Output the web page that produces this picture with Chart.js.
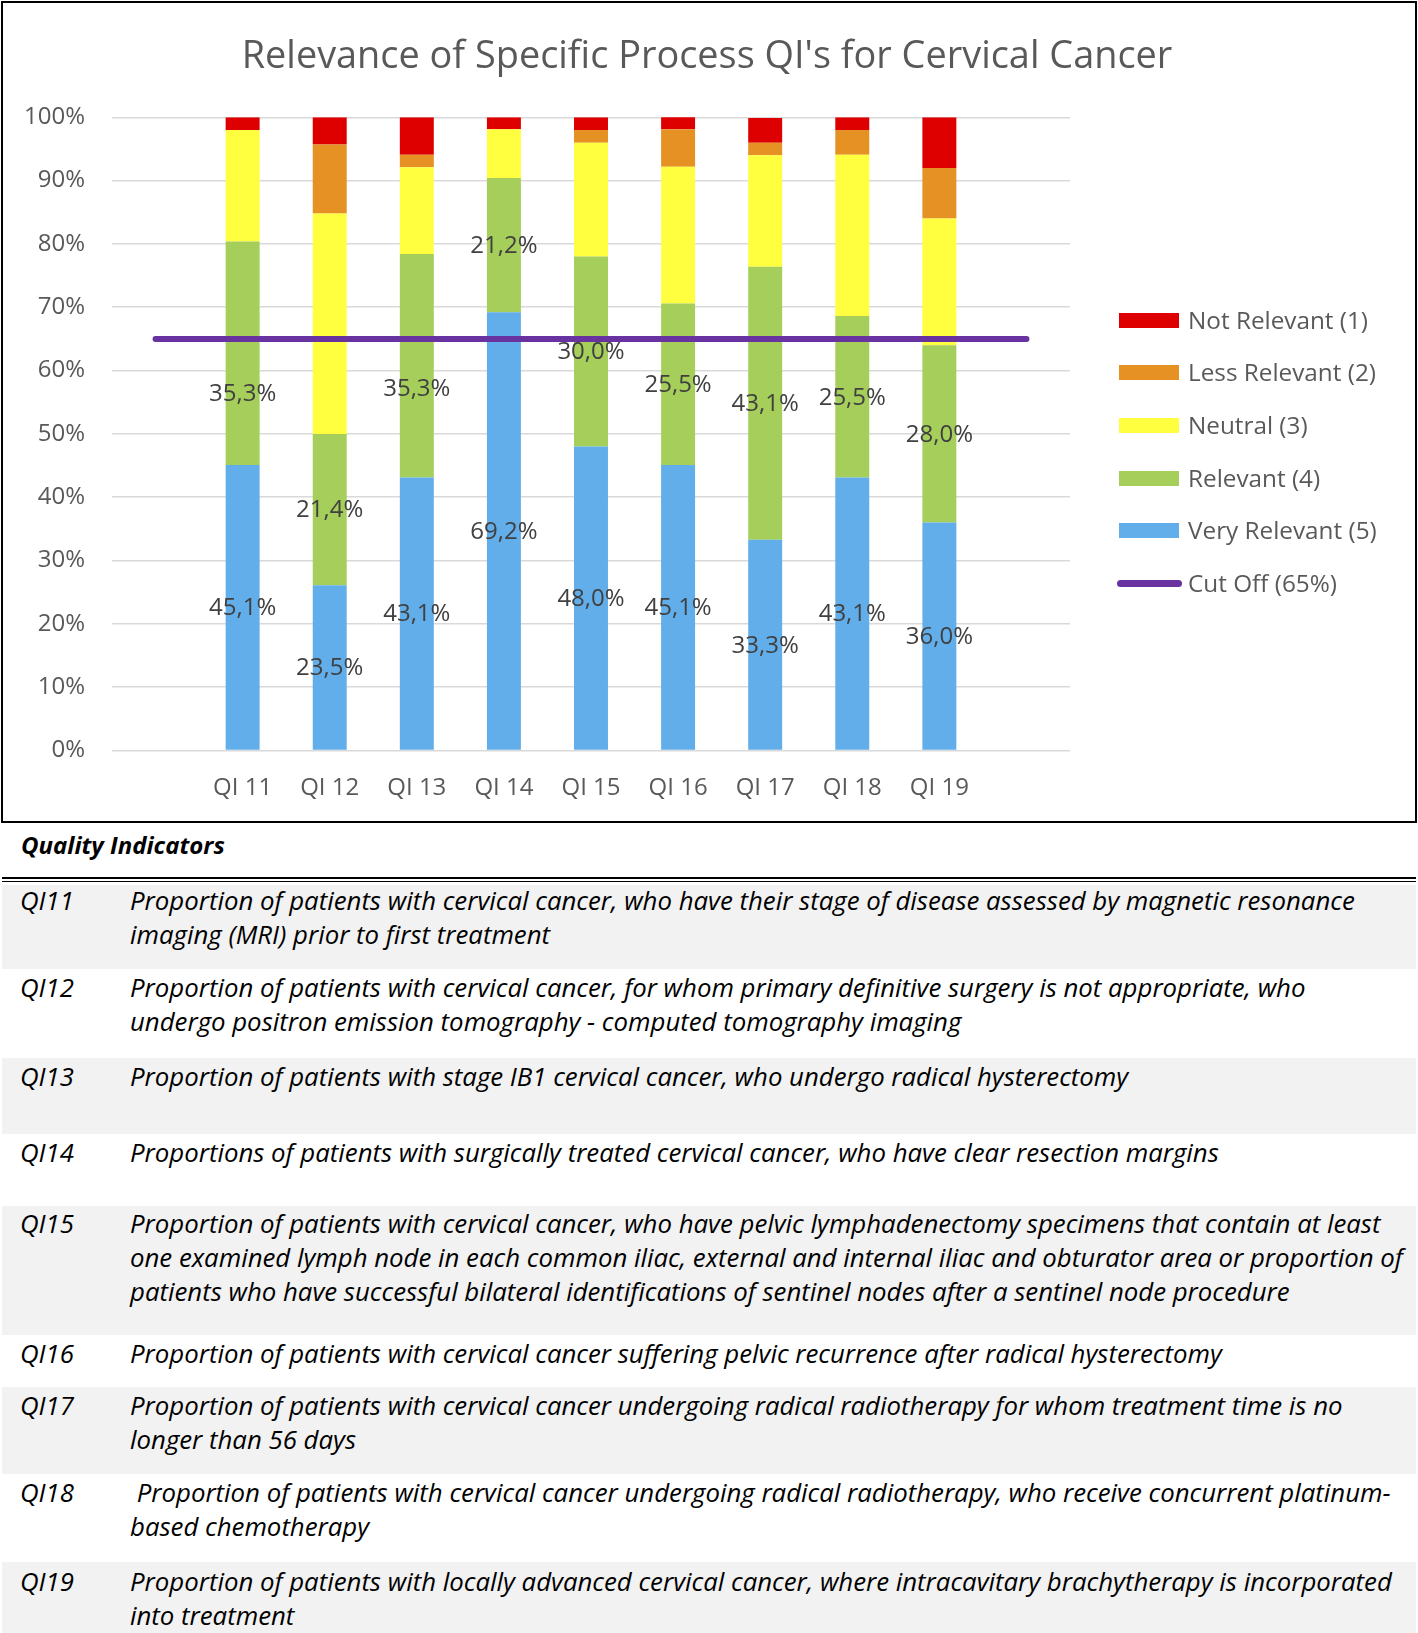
<!DOCTYPE html>
<html>
<head>
<meta charset="utf-8">
<script src="https://cdn.jsdelivr.net/npm/chart.js@4.4.1/dist/chart.umd.min.js"></script>
<style>
  html, body { margin: 0; padding: 0; background: #fff; }
  body { width: 1418px; height: 1633px; position: relative; overflow: hidden; font-family: "Open Sans", Lato, sans-serif; }
  #box { position: absolute; left: 1px; top: 1px; width: 1416px; height: 822px; box-sizing: border-box; border: 2px solid #000; }
  #chart { position: absolute; left: 3px; top: 3px; }
  #title { position: absolute; left: 0; width: 1414px; text-align: center; top: 29px; line-height: 50px; color: #595959; white-space: nowrap; }
  .leg { position: absolute; left: 1117px; height: 30px; width: 300px; }
  .leg .sw { position: absolute; left: 2px; width: 60px; height: 15px; top: 7px; }
  .leg .ln { position: absolute; left: 0px; width: 65px; height: 7px; top: 11px; border-radius: 4px; }
  .leg .tx { position: absolute; left: 71px; top: -1px; line-height: 30px; font-size: 24.3px; color: #595959; white-space: nowrap; }
  #qiHead { position: absolute; left: 21px; top: 829px; font-size: 24px; font-weight: bold; font-style: italic; color: #000; line-height: 32px; }
  #dbl1 { position: absolute; left: 2px; width: 1414px; top: 877px; height: 2px; background: #000; }
  #dbl2 { position: absolute; left: 2px; width: 1414px; top: 881px; height: 1px; background: #000; }
  .row { position: absolute; left: 2px; width: 1414px; }
  .row.g { background: #f2f2f2; }
  .row .id { position: absolute; left: 18px; font-style: italic; line-height: 34px; color: #000; }
  .row .ds { position: absolute; left: 128px; font-style: italic; line-height: 34px; color: #000; white-space: nowrap; }
</style>
</head>
<body>
<div id="box"></div>
<canvas id="chart" width="1412" height="818"></canvas>
<div id="title"></div>
<div id="legend"></div>
<div id="qiHead">Quality Indicators</div>
<div id="dbl1"></div><div id="dbl2"></div>
<div id="table"></div>
<script>
// ---- data ----
const chartTitle = "Relevance of Specific Process QI's for Cervical Cancer";
const categories = ['QI 11', 'QI 12', 'QI 13', 'QI 14', 'QI 15', 'QI 16', 'QI 17', 'QI 18', 'QI 19'];
const veryRelevant = [45.1, 26.1, 43.1, 69.2, 48.0, 45.1, 33.3, 43.1, 36.0];
const relevant     = [35.3, 23.9, 35.3, 21.2, 30.0, 25.5, 43.1, 25.5, 28.0];
const neutral      = [17.6, 34.8, 13.7, 7.7, 18.0, 21.6, 17.6, 25.5, 20.0];
const lessRelevant = [0, 10.9, 2.0, 0, 2.0, 5.9, 2.0, 3.9, 8.0];
const notRelevant  = [2.0, 4.3, 5.9, 1.9, 2.0, 2.0, 3.9, 2.0, 8.0];
const veryRelevantLabels = [45.1, 23.5, 43.1, 69.2, 48.0, 45.1, 33.3, 43.1, 36.0];
const relevantLabels     = [35.3, 21.4, 35.3, 21.2, 30.0, 25.5, 43.1, 25.5, 28.0];
const cutOff = 65;
const yTicks = [0, 10, 20, 30, 40, 50, 60, 70, 80, 90, 100];
const qiIds = ['QI11', 'QI12', 'QI13', 'QI14', 'QI15', 'QI16', 'QI17', 'QI18', 'QI19'];
const qiTexts = [
  ['Proportion of patients with cervical cancer, who have their stage of disease assessed by magnetic resonance', 'imaging (MRI) prior to first treatment'],
  ['Proportion of patients with cervical cancer, for whom primary definitive surgery is not appropriate, who', 'undergo positron emission tomography - computed tomography imaging'],
  ['Proportion of patients with stage IB1 cervical cancer, who undergo radical hysterectomy'],
  ['Proportions of patients with surgically treated cervical cancer, who have clear resection margins'],
  ['Proportion of patients with cervical cancer, who have pelvic lymphadenectomy specimens that contain at least', 'one examined lymph node in each common iliac, external and internal iliac and obturator area or proportion of', 'patients who have successful bilateral identifications of sentinel nodes after a sentinel node procedure'],
  ['Proportion of patients with cervical cancer suffering pelvic recurrence after radical hysterectomy'],
  ['Proportion of patients with cervical cancer undergoing radical radiotherapy for whom treatment time is no', 'longer than 56 days'],
  ['\u00a0Proportion of patients with cervical cancer undergoing radical radiotherapy, who receive concurrent platinum-', 'based chemotherapy'],
  ['Proportion of patients with locally advanced cervical cancer, where intracavitary brachytherapy is incorporated', 'into treatment']
];

// ---- styling (not data) ----
const rowTops = [885, 969, 1058, 1134, 1206, 1335, 1387, 1474, 1562, 1633];
const rowTextTop = [-2, 1, 1, 1, 0, 1, 1, 1, 2];
const rowGrey = [true, false, true, false, true, false, true, false, true];
const labelShift = { 'Relevant (4)': { 0: 40, 2: 22 } };
const FONT = '"Open Sans"';

// fit a font size so a reference string spans a target width
function fitSize(text, style, base, target) {
  const c = document.createElement('canvas').getContext('2d');
  c.font = style + ' ' + base + 'px ' + FONT;
  return base * target / c.measureText(text).width;
}

const titleEl = document.getElementById('title');
titleEl.textContent = chartTitle;
titleEl.style.fontSize = fitSize(chartTitle, 'normal', 35, 931).toFixed(2) + 'px';

const pad = a => [null, ...a, null];
const allLabels = ['', ...categories, ''];
const fmt = v => v.toFixed(1).replace('.', ',') + '%';

const datasets = [
  { label: 'Very Relevant (5)', data: pad(veryRelevant), backgroundColor: '#62AEEA', valueLabels: veryRelevantLabels, order: 1 },
  { label: 'Relevant (4)', data: pad(relevant), backgroundColor: '#A5CE5A', valueLabels: relevantLabels, order: 1 },
  { label: 'Neutral (3)', data: pad(neutral), backgroundColor: '#FFFF40', order: 1 },
  { label: 'Less Relevant (2)', data: pad(lessRelevant), backgroundColor: '#E59123', order: 1 },
  { label: 'Not Relevant (1)', data: pad(notRelevant), backgroundColor: '#DE0000', order: 1 },
  { type: 'line', label: 'Cut Off (65%)', data: allLabels.map(() => cutOff), borderColor: '#6833A0', backgroundColor: '#6833A0',
    borderWidth: 6, borderCapStyle: 'round', pointRadius: 0, order: 0 }
];
datasets.forEach(d => { if (!d.type) { d.barPercentage = 0.39; d.categoryPercentage = 1.0; d.borderWidth = 0; } });

const valueLabelPlugin = {
  id: 'valueLabels',
  afterDatasetsDraw(chart) {
    const ctx = chart.ctx;
    ctx.save();
    ctx.font = '24px ' + FONT;
    ctx.fillStyle = '#404040';
    ctx.textAlign = 'center';
    ctx.textBaseline = 'middle';
    chart.data.datasets.forEach((ds, di) => {
      if (!ds.valueLabels) return;
      const meta = chart.getDatasetMeta(di);
      meta.data.forEach((el, i) => {
        const k = i - 1;
        if (k < 0 || k >= ds.valueLabels.length) return;
        const shift = (labelShift[ds.label] && labelShift[ds.label][k]) || 0;
        const y = (el.y + el.base) / 2 + shift;
        ctx.fillText(fmt(ds.valueLabels[k]), el.x, y + 1);
      });
    });
    ctx.restore();
  }
};

const chart = new Chart(document.getElementById('chart'), {
  type: 'bar',
  data: { labels: allLabels, datasets },
  options: {
    responsive: false,
    devicePixelRatio: 1,
    animation: false,
    layout: { padding: { left: 0, right: 345, top: 114.3, bottom: 0 } },
    plugins: {
      legend: { display: false },
      tooltip: { enabled: false },
      title: { display: false }
    },
    scales: {
      x: {
        stacked: true,
        grid: { display: false, drawTicks: false },
        border: { display: false },
        ticks: { color: '#595959', font: { family: 'Open Sans', size: 24 }, padding: 23, autoSkip: false, maxRotation: 0 },
        afterFit(scale) { scale.height = 70.5; }
      },
      y: {
        stacked: true,
        min: 0, max: 100,
        grid: { color: '#d9d9d9', lineWidth: 1.6, drawTicks: false },
        border: { display: false },
        afterBuildTicks(scale) { scale.ticks = yTicks.map(v => ({ value: v })); },
        ticks: { color: '#595959', font: { family: 'Open Sans', size: 24 }, padding: 27, callback: v => v + '%' },
        afterFit(scale) { scale.width = 109; }
      }
    }
  },
  plugins: [valueLabelPlugin]
});

// ---- legend (HTML) ----
const legendOrder = [4, 3, 2, 1, 0, 5];
const legendCenters = [321, 373, 425.5, 478.5, 531, 583.5];
const legendEl = document.getElementById('legend');
legendOrder.forEach((di, j) => {
  const ds = datasets[di];
  const item = document.createElement('div');
  item.className = 'leg';
  item.style.top = (legendCenters[j] - 15) + 'px';
  const sw = document.createElement('div');
  sw.className = ds.type === 'line' ? 'ln' : 'sw';
  sw.style.background = ds.type === 'line' ? ds.borderColor : ds.backgroundColor;
  const tx = document.createElement('div');
  tx.className = 'tx';
  tx.textContent = ds.label;
  item.appendChild(sw); item.appendChild(tx);
  legendEl.appendChild(item);
});

// ---- table ----
const tableSize = fitSize(qiTexts[0][0], 'italic', 24, 1225);
const tableEl = document.getElementById('table');
qiIds.forEach((id, i) => {
  const row = document.createElement('div');
  row.className = 'row' + (rowGrey[i] ? ' g' : '');
  row.style.top = rowTops[i] + 'px';
  row.style.height = (rowTops[i + 1] - rowTops[i]) + 'px';
  const a = document.createElement('div');
  a.className = 'id'; a.style.top = rowTextTop[i] + 'px'; a.textContent = id;
  a.style.fontSize = tableSize.toFixed(2) + 'px';
  const b = document.createElement('div');
  b.className = 'ds'; b.style.top = rowTextTop[i] + 'px';
  b.style.fontSize = tableSize.toFixed(2) + 'px';
  qiTexts[i].forEach((line, j) => {
    if (j) b.appendChild(document.createElement('br'));
    b.appendChild(document.createTextNode(line));
  });
  row.appendChild(a); row.appendChild(b);
  tableEl.appendChild(row);
});
</script>
</body>
</html>
